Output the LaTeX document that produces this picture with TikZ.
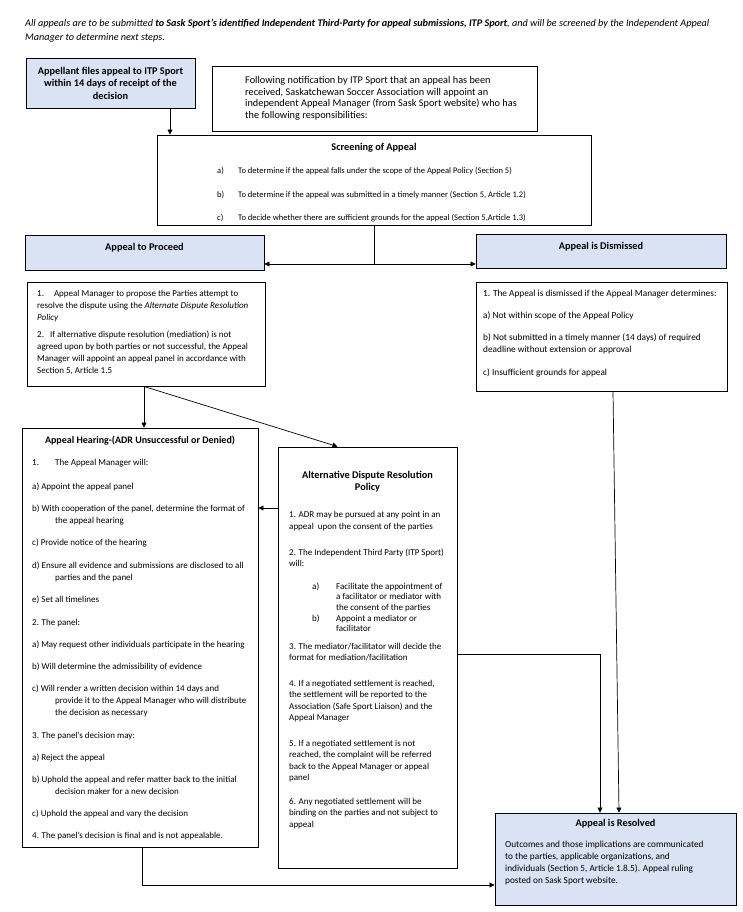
\documentclass[tikz,border=0pt]{standalone}
\usepackage{fontspec}
\setmainfont{Carlito}
\usetikzlibrary{arrows.meta}
\definecolor{boxblue}{RGB}{218,227,243}
\begin{document}
\begin{tikzpicture}[x=1pt,y=-1pt,
  box/.style={draw=black, line width=0.9pt, inner sep=0pt, rectangle},
  bluebox/.style={box, fill=boxblue},
  arr/.style={draw=black, line width=0.7pt, -{Triangle[length=5pt,width=5pt]}},
  ln/.style={draw=black, line width=0.7pt},
  txt/.style={inner sep=0pt, anchor=base west},
  ttl/.style={inner sep=0pt, anchor=base, font=\fontsize{10.3}{12}\selectfont\bfseries},
  big/.style={font=\fontsize{10.3}{11.7}\selectfont},
  scr/.style={font=\fontsize{8.5}{11}\selectfont},
  ptx/.style={font=\fontsize{9}{12}\selectfont},
  dtx/.style={font=\fontsize{9.3}{12}\selectfont},
  htx/.style={font=\fontsize{9}{12}\selectfont},
  atx/.style={font=\fontsize{9}{11.5}\selectfont},
  atxs/.style={font=\fontsize{9}{10.6}\selectfont},
  rtx/.style={font=\fontsize{9.3}{12}\selectfont},
]
\useasboundingbox (0,0) rectangle (743,912);

% intro
\node[txt, font=\fontsize{10.2}{14}\selectfont\itshape] (intro) at (25,26.5) {\parbox[t]{716pt}{All appeals are to be submitted \textbf{to Sask Sport’s identified Independent Third-Party for appeal submissions, ITP Sport}, and will be screened by the Independent Appeal\\Manager to determine next steps.}};

% boxes
\node[bluebox, minimum width=169pt, minimum height=50pt, align=center, font=\fontsize{10.3}{12.5}\selectfont\bfseries] (app) at (110.5,83) {Appellant files appeal to ITP Sport\\within 14 days of receipt of the\\decision};
\node[box, minimum width=325pt, minimum height=65pt] (note) at (374.5,98.5) {};
\node[box, minimum width=434pt, minimum height=90pt] (screen) at (374,180) {};
\node[bluebox, minimum width=239pt, minimum height=35pt] (proc) at (144.5,252.5) {};
\node[bluebox, minimum width=250pt, minimum height=34pt] (dism) at (601,251) {};
\node[box, minimum width=238pt, minimum height=104pt] (ptext) at (146,334) {};
\node[box, minimum width=251pt, minimum height=109pt] (dtext) at (601.5,336.5) {};
\node[box, minimum width=236pt, minimum height=419pt] (hear) at (140,637.5) {};
\node[box, minimum width=179pt, minimum height=421pt] (adr) at (367.5,657.5) {};
\node[bluebox, minimum width=241pt, minimum height=92pt] (res) at (615.5,859) {};

% note text
\node[txt, big] (notet) at (245,83.5) {\parbox[t]{290pt}{Following notification by ITP Sport that an appeal has been\\received, Saskatchewan Soccer Association will appoint an\\independent Appeal Manager (from Sask Sport website) who has\\the following responsibilities:}};

% screening
\node[ttl] (screent) at (374,151) {Screening of Appeal};
\node[txt, scr] (sa) at (217,173.5) {a)};
\node[txt, scr] (sat) at (238,173.5) {To determine if the appeal falls under the scope of the Appeal Policy (Section 5)};
\node[txt, scr] (sb) at (217,197) {b)};
\node[txt, scr] (sbt) at (238,197) {To determine if the appeal was submitted in a timely manner (Section 5, Article 1.2)};
\node[txt, scr] (sc) at (217,220) {c)};
\node[txt, scr] (sct) at (238,220) {To decide whether there are sufficient grounds for the appeal (Section 5,Article 1.3)};

% titles
\node[ttl] (proct) at (144.5,250.5) {Appeal to Proceed};
\node[ttl] (dismt) at (601,249.5) {Appeal is Dismissed};

% proceed text
\node[txt, ptx] (p1) at (37,296) {\parbox[t]{230pt}{1.\hspace{10pt}Appeal Manager to propose the Parties attempt to\\resolve the dispute using the \textit{Alternate Dispute Resolution}\\\textit{Policy}}};
\node[txt, ptx] (p2) at (37,337) {\parbox[t]{230pt}{2.\hspace{6pt}If alternative dispute resolution (mediation) is not\\agreed upon by both parties or not successful, the Appeal\\Manager will appoint an appeal panel in accordance with\\Section 5, Article 1.5}};

% dismissed text
\node[txt, dtx] (d1) at (483,296) {1. The Appeal is dismissed if the Appeal Manager determines:};
\node[txt, dtx] (d2) at (483,318) {a) Not within scope of the Appeal Policy};
\node[txt, dtx] (d3) at (483,340) {\parbox[t]{240pt}{b) Not submitted in a timely manner (14 days) of required\\deadline without extension or approval}};
\node[txt, dtx] (d4) at (483,375) {c) Insufficient grounds for appeal};

% hearing
\node[ttl, font=\fontsize{10}{12}\selectfont\bfseries] (heart) at (140,443) {Appeal Hearing-(ADR Unsuccessful or Denied)};
\node[txt, htx] (h1) at (32,465) {1.};
\node[txt, htx] (h1t) at (55,465) {The Appeal Manager will:};
\node[txt, htx] (h1a) at (32,489) {a) Appoint the appeal panel};
\node[txt, htx] (h1b) at (32,511) {\parbox[t]{230pt}{b) With cooperation of the panel, determine the format of\\\hspace*{23pt}the appeal hearing}};
\node[txt, htx] (h1c) at (32,545) {c) Provide notice of the hearing};
\node[txt, htx] (h1d) at (32,568) {\parbox[t]{230pt}{d) Ensure all evidence and submissions are disclosed to all\\\hspace*{23pt}parties and the panel}};
\node[txt, htx] (h1e) at (32,602) {e) Set all timelines};
\node[txt, htx] (h2) at (32,625) {2. The panel:};
\node[txt, htx] (h2a) at (32,647) {a) May request other individuals participate in the hearing};
\node[txt, htx] (h2b) at (32,669) {b) Will determine the admissibility of evidence};
\node[txt, htx] (h2c) at (32,691) {\parbox[t]{230pt}{c) Will render a written decision within 14 days and\\\hspace*{23pt}provide it to the Appeal Manager who will distribute\\\hspace*{23pt}the decision as necessary}};
\node[txt, htx] (h3) at (32,738) {3. The panel’s decision may:};
\node[txt, htx] (h3a) at (32,760) {a) Reject the appeal};
\node[txt, htx] (h3b) at (32,782) {\parbox[t]{230pt}{b) Uphold the appeal and refer matter back to the initial\\\hspace*{23pt}decision maker for a new decision}};
\node[txt, htx] (h3c) at (32,816) {c) Uphold the appeal and vary the decision};
\node[txt, htx] (h4) at (32,838) {4. The panel’s decision is final and is not appealable.};

% ADR
\node[ttl] (adrt) at (367.5,478.5) {\parbox[t]{175pt}{\centering Alternative Dispute Resolution\\Policy}};
\node[txt, atx] (a1) at (289,517.5) {\parbox[t]{170pt}{1. ADR may be pursued at any point in an\\appeal\ \ upon the consent of the parties}};
\node[txt, atx] (a2) at (289,555) {\parbox[t]{170pt}{2. The Independent Third Party (ITP Sport)\\will:}};
\node[txt, atx] (a2a) at (312,589) {a)};
\node[txt, atxs] (a2at) at (336,589) {\parbox[t]{120pt}{Facilitate the appointment of\\a facilitator or mediator with\\the consent of the parties}};
\node[txt, atx] (a2b) at (312,621) {b)};
\node[txt, atxs] (a2bt) at (336,621) {\parbox[t]{120pt}{Appoint a mediator or\\facilitator}};
\node[txt, atx] (a3) at (289,649) {\parbox[t]{170pt}{3. The mediator/facilitator will decide the\\format for mediation/facilitation}};
\node[txt, atx] (a4) at (289,686) {\parbox[t]{170pt}{4. If a negotiated settlement is reached,\\the settlement will be reported to the\\Association (Safe Sport Liaison) and the\\Appeal Manager}};
\node[txt, atx] (a5) at (289,746) {\parbox[t]{170pt}{5. If a negotiated settlement is not\\reached, the complaint will be referred\\back to the Appeal Manager or appeal\\panel}};
\node[txt, atx] (a6) at (289,804) {\parbox[t]{170pt}{6. Any negotiated settlement will be\\binding on the parties and not subject to\\appeal}};

% resolved
\node[ttl] (rest) at (615.5,826.5) {Appeal is Resolved};
\node[txt, rtx] (r1) at (505,847) {\parbox[t]{230pt}{Outcomes and those implications are communicated\\to the parties, applicable organizations, and\\individuals (Section 5, Article 1.8.5). Appeal ruling\\posted on Sask Sport website.}};

% connectors
\coordinate (split) at (374,264);
\draw[arr] ([xshift=59.5pt]app.south) -- ([xshift=59.5pt]app.south |- screen.north);
\draw[ln] (screen.south) -- (split);
\draw[arr] (split) -- (split -| proc.east);
\draw[arr] (split) -- (split -| dism.west);
\draw[arr] ([xshift=-2pt]ptext.south) -- ([xshift=-2pt]ptext.south |- hear.north);
\draw[arr] ([xshift=-2pt]ptext.south) -- ([xshift=-30pt]adr.north);
\draw[arr] ([yshift=149.5pt]adr.west) -- ([yshift=149.5pt]adr.west -| hear.east);
\draw[arr] ([yshift=3.5pt]adr.east) -| ([xshift=-15.5pt]res.north);
\draw[arr] ([xshift=11.5pt]dtext.south) -- ([xshift=3.5pt]res.north);
\draw[arr] ([xshift=2pt]hear.south) |- ([yshift=-26pt]res.west);
\end{tikzpicture}
\end{document}
